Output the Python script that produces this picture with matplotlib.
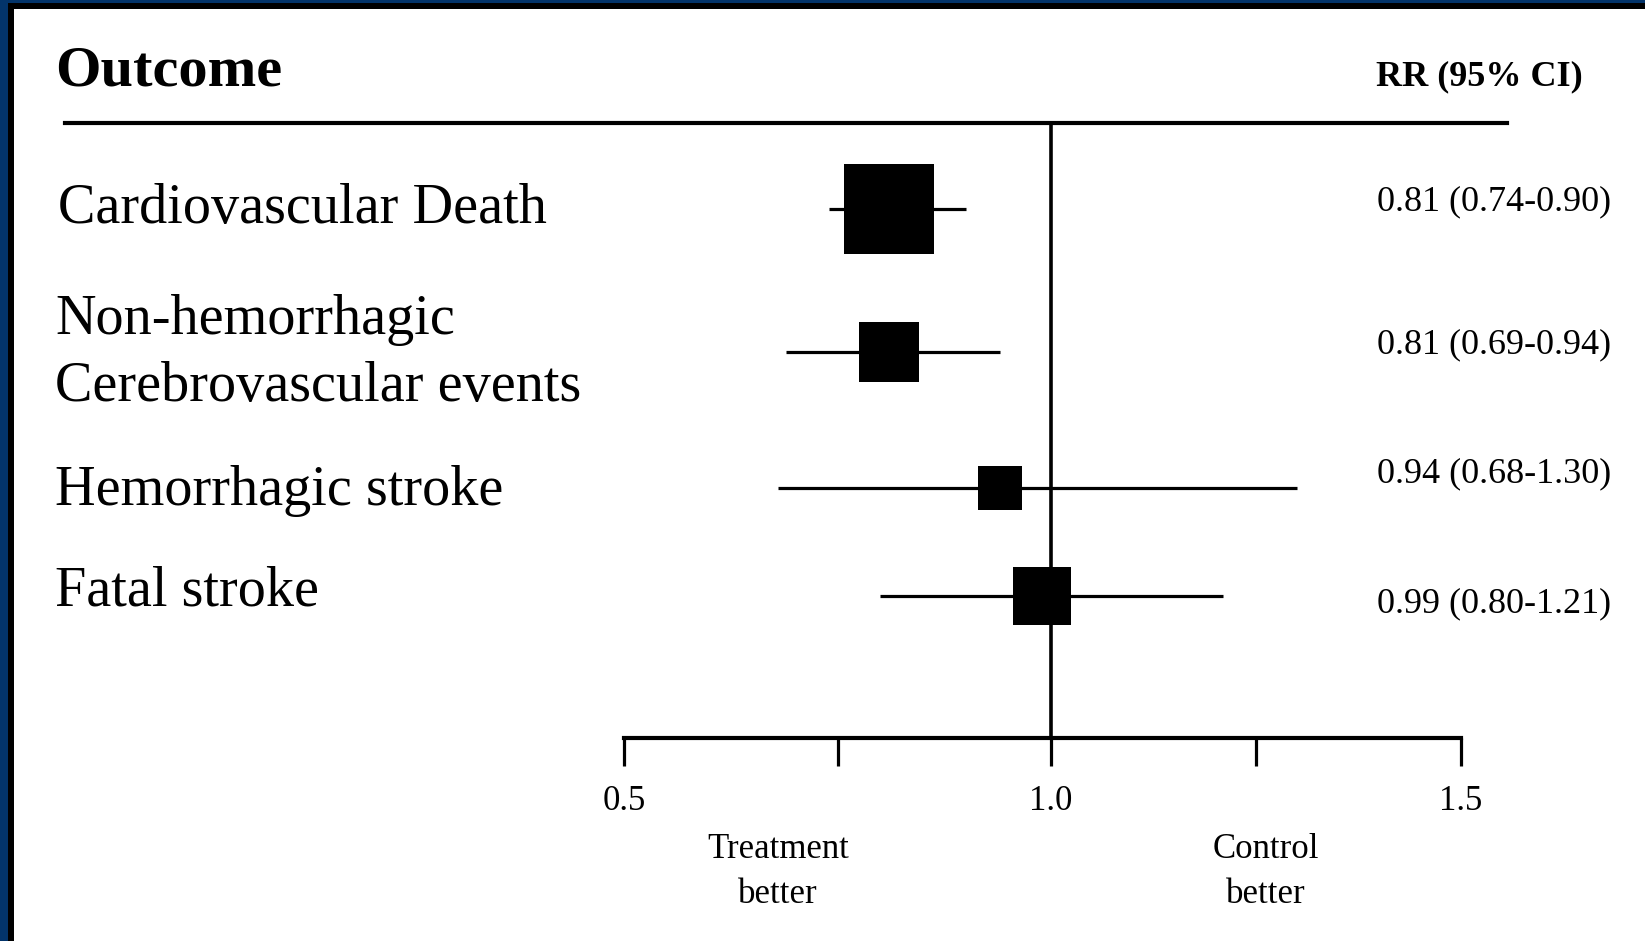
import matplotlib
matplotlib.use("Agg")
import numpy as np
import matplotlib.pyplot as plt
from matplotlib.patches import Rectangle
from matplotlib.lines import Line2D

# ---- data ----
outcomes = ["Cardiovascular Death",
            "Non-hemorrhagic\nCerebrovascular events",
            "Hemorrhagic stroke",
            "Fatal stroke"]
rr = [0.81, 0.81, 0.94, 0.99]
ci_low = [0.74, 0.69, 0.68, 0.80]
ci_high = [0.90, 0.94, 1.30, 1.21]
rr_labels = ["0.81 (0.74-0.90)", "0.81 (0.69-0.94)",
             "0.94 (0.68-1.30)", "0.99 (0.80-1.21)"]
tick_values = [0.5, 0.75, 1.0, 1.25, 1.5]
tick_labels = ["0.5", "", "1.0", "", "1.5"]

# ---- layout (pixels) ----
W, H = 1645, 941
DPI = 100
row_y_px = [209, 352, 488, 596]          # whisker rows
label_base_px = [223, 334, 505, 606]      # baseline of first line of outcome text
label_x_px = [58, 55, 55, 55]
value_base_px = [210, 353, 482, 612]
box_sizes = [65, 43, 32, 42]              # marker size (pt)

plt.rcParams['font.family'] = ['Liberation Serif', 'DejaVu Serif']

fig = plt.figure(figsize=(W / DPI, H / DPI), dpi=DPI)
fig.patch.set_facecolor("white")

def fx(x):
    return x / W

def fy(y):
    return 1 - y / H

# axis in the original is drawn slightly compressed right of 1.0
k = 820.0 / 854.0

def fwd(x):
    x = np.asarray(x, dtype=float)
    return np.where(x < 1.0, x, 1.0 + (x - 1.0) * k)

def inv(u):
    u = np.asarray(u, dtype=float)
    return np.where(u < 1.0, u, 1.0 + (u - 1.0) / k)

# axes: x from 560px to 1520px, y from 123px (top) to 738px (bottom)
ax_left, ax_right, ax_top, ax_bot = 560, 1520, 123, 738
ax = fig.add_axes([fx(ax_left), fy(ax_bot), (ax_right - ax_left) / W, (ax_bot - ax_top) / H])
ax.set_xscale("function", functions=(fwd, inv))
px_per_unit = 854.0  # in transformed units
u0 = 0.5 - (624 - ax_left) / px_per_unit
u1 = fwd(1.5) + (ax_right - 1461) / px_per_unit
ax.set_xlim(float(inv(u0)), float(inv(u1)))
ax.set_ylim(0, ax_bot - ax_top)
ax.patch.set_alpha(0)

for s in ["top", "right", "left"]:
    ax.spines[s].set_visible(False)
ax.spines["bottom"].set_bounds(0.5, 1.5)
ax.spines["bottom"].set_linewidth(3)
ax.spines["bottom"].set_capstyle("projecting")
ax.set_yticks([])
ax.set_xticks(tick_values)
ax.set_xticklabels(tick_labels)
ax.xaxis.set_minor_locator(matplotlib.ticker.NullLocator())
ax.tick_params(axis="x", direction="out", length=20, width=2.3, pad=14,
               labelsize=25, color="black")

# reference line at 1.0
ax.plot([1.0, 1.0], [0, ax_bot - ax_top], color="black", lw=2.6, clip_on=False, zorder=2)

# CIs and boxes
for i in range(len(rr)):
    yv = ax_bot - row_y_px[i]
    ax.plot([ci_low[i], ci_high[i]], [yv, yv], color="black", lw=2.3,
            solid_capstyle="butt", zorder=3)
    ax.plot([rr[i]], [yv], marker="s", markersize=box_sizes[i], color="black",
            markeredgewidth=0, zorder=4)

# headers
fig.text(fx(55), fy(85), "Outcome", fontsize=42, fontweight="bold",
         ha="left", va="baseline")
fig.text(fx(1376), fy(85), "RR (95% CI)", fontsize=26, fontweight="bold",
         ha="left", va="baseline")
fig.add_artist(Line2D([fx(65), fx(1507)], [fy(123), fy(123)], color="black",
                      lw=3, transform=fig.transFigure))

# outcome labels and values
for i, lab in enumerate(outcomes):
    fig.text(fx(label_x_px[i]), fy(label_base_px[i]), lab.split("\n")[0],
             fontsize=40.5, ha="left", va="baseline")
    if "\n" in lab:
        fig.text(fx(label_x_px[i]), fy(label_base_px[i] + 67), lab.split("\n")[1],
                 fontsize=40.5, ha="left", va="baseline")
    fig.text(fx(1377), fy(value_base_px[i]), rr_labels[i], fontsize=26,
             ha="left", va="baseline")

# direction labels
fig.text(fx(778), fy(858), "Treatment", fontsize=25, ha="center", va="baseline")
fig.text(fx(778), fy(903), "better", fontsize=25, ha="center", va="baseline")
fig.text(fx(1266), fy(858), "Control", fontsize=25, ha="center", va="baseline")
fig.text(fx(1266), fy(903), "better", fontsize=25, ha="center", va="baseline")

# frame: blue + black on top and left
blue = "#03346a"
fig.add_artist(Rectangle((0, fy(3)), 1, 3 / H, transform=fig.transFigure,
                         color=blue, lw=0))
fig.add_artist(Rectangle((0, fy(9)), 1, 6 / H, transform=fig.transFigure,
                         color="black", lw=0))
fig.add_artist(Rectangle((0, 0), 8 / W, 1, transform=fig.transFigure,
                         color=blue, lw=0))
fig.add_artist(Rectangle((8 / W, 0), 6 / W, fy(3), transform=fig.transFigure,
                         color="black", lw=0))

fig.savefig("out.png", dpi=DPI)
